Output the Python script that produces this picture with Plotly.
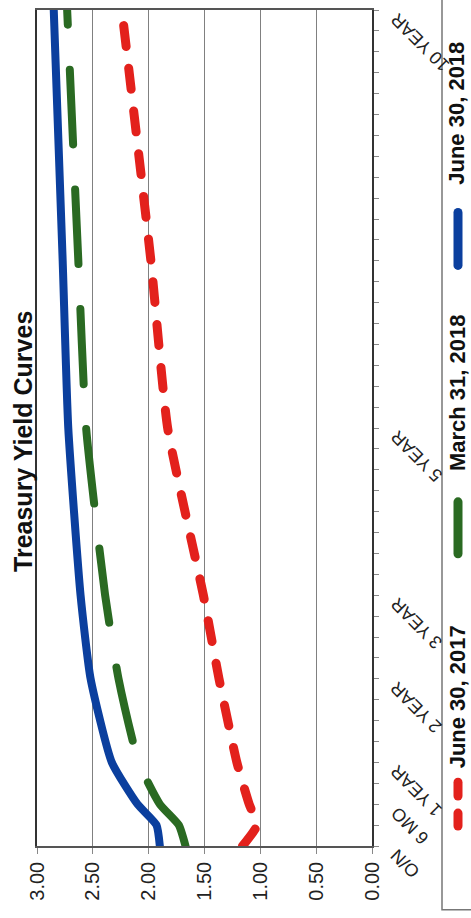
import plotly.graph_objects as go

# Maturity in months and the label shown for each labelled point
maturity_months = [0, 3, 6, 12, 24, 36, 60, 84, 120]
label_months = [0, 6, 12, 24, 36, 60, 120]
label_text = ["O/N", "6 MO", "1 YEAR", "2 YEAR", "3 YEAR", "5 YEAR", "10 YEAR"]

# Yields (%) for each curve
yield_jun_2017 = [1.16, 1.03, 1.10, 1.21, 1.37, 1.51, 1.83, 1.98, 2.24]
yield_mar_2018 = [1.67, 1.73, 1.90, 2.09, 2.27, 2.39, 2.56, 2.63, 2.73]
yield_jun_2018 = [1.90, 1.93, 2.10, 2.33, 2.52, 2.61, 2.72, 2.77, 2.85]

series_names = ["June 30, 2017", "March 31, 2018", "June 30, 2018"]
value_ticks = [0.0, 0.5, 1.0, 1.5, 2.0, 2.5, 3.0]

W, H = 471, 918
L, R, T, B = 37, 372, 8, 846   # plot area in pixels

RED, GREEN, BLUE = "#e3211c", "#2a6a22", "#0b3f9e"
FONT = "Liberation Sans, Arial, sans-serif"


def px_x(p):
    return (p - L) / (R - L)


def px_y(p):
    return (B - p) / (B - T)


fig = go.Figure()

styles = [
    (yield_jun_2017, RED, 9, "21px,22px"),
    (yield_mar_2018, GREEN, 8, "75px,45px"),
    (yield_jun_2018, BLUE, 8, "solid"),
]
for name, (vals, color, width, dash) in zip(series_names, styles):
    fig.add_trace(go.Scatter(
        x=vals, y=maturity_months, name=name, mode="lines",
        line=dict(color=color, width=width, dash=dash, shape="spline", smoothing=0.5),
        showlegend=False, hoverinfo="skip",
    ))

fig.update_layout(
    width=W, height=H,
    margin=dict(l=L, r=W - R, t=T, b=H - B),
    paper_bgcolor="white", plot_bgcolor="white",
    font=dict(family=FONT, color="#222"),
    xaxis=dict(
        range=[3, 0], tickvals=value_ticks, tickformat=".2f",
        tickangle=-90, tickfont=dict(size=20, color="#222"),
        showgrid=True, gridcolor="#808080", gridwidth=1.2,
        showline=True, linecolor="#555", linewidth=1.5, mirror=True,
        ticks="outside", ticklen=6, tickcolor="#888", zeroline=False,
    ),
    yaxis=dict(
        range=[0, 120], side="right", tickvals=list(range(0, 121, 3)),
        showticklabels=False, showgrid=False, zeroline=False,
        showline=True, linecolor="#333", linewidth=1.5, mirror=True,
        ticks="outside", ticklen=5, tickcolor="#888",
    ),
)

# Maturity labels on the right axis, slanted
for m, txt in zip(label_months, label_text):
    fig.add_annotation(
        x=1, xref="paper", y=m, yref="y", text=txt, showarrow=False,
        textangle=-135, xanchor="left", yanchor="top", xshift=12, yshift=4,
        font=dict(size=18, color="#222", family=FONT),
    )

# Title
fig.add_annotation(
    x=px_x(23), y=px_y(441), xref="paper", yref="paper",
    text="<b>Treasury Yield Curves</b>", showarrow=False, textangle=-90,
    xanchor="center", yanchor="middle", font=dict(size=25, color="#111", family=FONT),
)

# Legend box
fig.add_shape(type="rect", xref="paper", yref="paper",
              x0=px_x(442), x1=px_x(485), y0=px_y(910), y1=px_y(-5),
              line=dict(color="#777", width=1.5), fillcolor="white", layer="below")

legend_items = [
    (series_names[2], BLUE, [(211, 264)], 112),
    (series_names[1], GREEN, [(501, 553)], 392),
    (series_names[0], RED, [(782, 796), (813, 826)], 697),
]
for name, color, segs, text_y in legend_items:
    for y0, y1 in segs:
        fig.add_shape(type="line", xref="paper", yref="paper",
                      x0=px_x(458), x1=px_x(458), y0=px_y(y0), y1=px_y(y1),
                      line=dict(color=color, width=9))
    fig.add_annotation(
        x=px_x(457), y=px_y(text_y), xref="paper", yref="paper",
        text="<b>" + name + "</b>", showarrow=False, textangle=-90,
        xanchor="center", yanchor="middle", font=dict(size=22, color="#111", family=FONT),
    )

round_caps = (
    "document.querySelectorAll('.scatterlayer path.js-line, .shapelayer path')"
    ".forEach(function(p){p.style.strokeLinecap='round';});"
)
fig.write_html("out.html", post_script=round_caps)
